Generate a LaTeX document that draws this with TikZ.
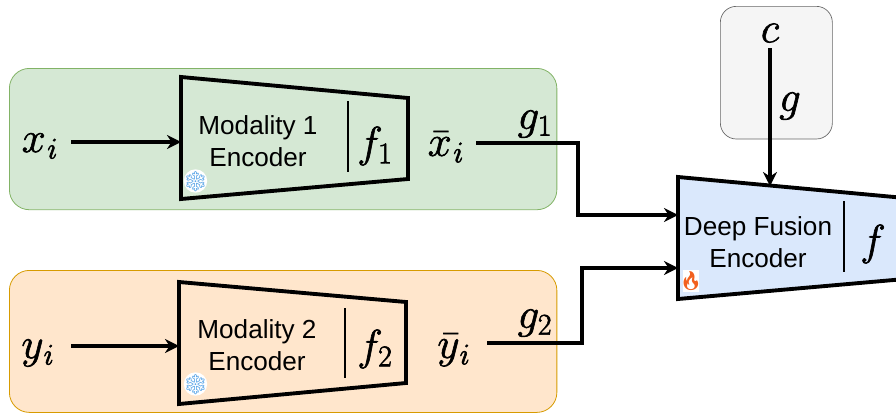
\documentclass[tikz,border=0pt]{standalone}
\usepackage{amsmath}
\usepackage{graphicx}
\usepackage{fontspec}
\setmainfont{Liberation Sans}
\newfontfamily\emojifont{Noto Emoji}
\usetikzlibrary{arrows.meta}
\DeclareMathSizes{24.88}{24.88}{17.28}{12}
\definecolor{grnfill}{HTML}{D5E8D4}
\definecolor{grnline}{HTML}{82B366}
\definecolor{orgfill}{HTML}{FFE6CC}
\definecolor{orgline}{HTML}{D79B00}
\definecolor{bluefill}{HTML}{DAE8FC}
\definecolor{greyfill}{HTML}{F5F5F5}
\definecolor{greyline}{HTML}{666666}
\definecolor{icecol}{HTML}{5AA5E8}
\definecolor{flamecol}{HTML}{F2601E}
\newcommand{\heavy}[1]{\scalebox{1.3}{\special{pdf:code q 2 Tr 0.35 w}#1\special{pdf:code 0 Tr Q}}}
\tikzset{
  x=0.75pt,y=-0.75pt,
  panel/.style={rounded corners=15pt,line width=0.6pt},
  trap/.style={draw=black,line width=2.9pt,line join=miter},
  conn/.style={draw=black,line width=2.3pt,-{Stealth[length=10.5pt,width=10.5pt]}},
  lbl/.style={inner sep=0pt,align=center,font=\fontsize{19.6pt}{24pt}\selectfont},
  mth/.style={inner sep=0pt,font=\fontsize{24.88pt}{30pt}\selectfont},
  ice/.style={inner sep=0pt,circle,minimum size=17.5pt,fill=white,text=icecol,font=\emojifont\fontsize{15pt}{15pt}\selectfont},
  flame/.style={inner sep=0pt,minimum width=12pt,minimum height=16pt,text=flamecol,fill=white,font=\emojifont\fontsize{14pt}{14pt}\selectfont},
  sep/.style={draw=black,line width=2.1pt},
}
\begin{document}
\begin{tikzpicture}
\useasboundingbox (0,0) rectangle (896,414);
% panels
\node[draw=grnline,fill=grnfill,panel,inner sep=0pt,anchor=north west,minimum width=410.6pt,minimum height=106pt] (pa) at (9,68) {};
\node[draw=orgline,fill=orgfill,panel,inner sep=0pt,anchor=north west,minimum width=410.6pt,minimum height=106.5pt] (pb) at (9,270) {};
\node[draw=greyline,fill=greyfill,rounded corners=12pt,line width=0.5pt,inner sep=0pt,anchor=north west,minimum width=84pt,minimum height=99.5pt] (pc) at (720,6) {};
% encoder 1
\coordinate (a1) at (181,77); \coordinate (a2) at (408,98);
\coordinate (a3) at (408,179); \coordinate (a4) at (181,199);
\draw[trap,fill=grnfill] (a1) -- (a2) -- (a3) -- (a4) -- cycle;
\coordinate (a5) at (348,101); \coordinate (a6) at (348,172);
\draw[sep] (a5) -- (a6);
\node[lbl] (t1) at (258,141) {Modality 1\\Encoder};
\node[mth] (f1) at (375,146) {\heavy{$f_1$}};
\node[ice] (s1) at (195.5,181) {\makebox[0pt]{\raisebox{-5.5pt}[0pt][0pt]{❄}}};
% encoder 2
\coordinate (b1) at (179,282); \coordinate (b2) at (406,302);
\coordinate (b3) at (406,383); \coordinate (b4) at (179,404);
\draw[trap,fill=orgfill] (b1) -- (b2) -- (b3) -- (b4) -- cycle;
\coordinate (b5) at (345,308); \coordinate (b6) at (345,378);
\draw[sep] (b5) -- (b6);
\node[lbl] (t2) at (257,345) {Modality 2\\Encoder};
\node[mth] (f2) at (375,349) {\heavy{$f_2$}};
\node[ice] (s2) at (195.5,384) {\makebox[0pt]{\raisebox{-5.5pt}[0pt][0pt]{❄}}};
% fusion
\coordinate (c1) at (678,177); \coordinate (c2) at (905,198);
\coordinate (c3) at (905,279); \coordinate (c4) at (678,299);
\draw[trap,fill=bluefill] (c1) -- (c2) -- (c3) -- (c4) -- cycle;
\coordinate (c5) at (844,201); \coordinate (c6) at (844,272);
\draw[sep] (c5) -- (c6);
\node[lbl] (t3) at (758,242) {Deep Fusion\\Encoder};
\node[mth] (f3) at (873,244) {\heavy{$f$}};
\node[flame] (fl) at (691,281) {\makebox[0pt]{\raisebox{-5pt}[0pt][0pt]{🔥}}};
% labels
\node[mth] (x) at (40,146) {\heavy{$x_{\mkern1mu i}$}};
\node[mth] (y) at (38,353) {\heavy{$y_{\mkern1mu i}$}};
\node[mth] (xb) at (446,147) {\heavy{$\bar{x}_{\mkern1mu i}$}};
\node[mth] (yb) at (454,350) {\heavy{$\bar{y}_{\mkern1mu i}$}};
\node[mth] (g1) at (535,124) {\heavy{$g_1$}};
\node[mth] (g2) at (535,323) {\heavy{$g_2$}};
\node[mth] (c) at (770,33) {\heavy{$c$}};
\node[mth] (g) at (790,106) {\heavy{$g$}};
% connector anchors
\coordinate (xs) at (71,142); \coordinate (ys) at (71,346);
\coordinate (xbs) at (476,143); \coordinate (ybs) at (487,343);
\coordinate (xbm) at (578,143); \coordinate (xbn) at (578,215);
\coordinate (ybm) at (582,343); \coordinate (ybn) at (582,268);
\coordinate (ain) at (181,142); \coordinate (bin) at (179,346);
\coordinate (cin1) at (678,215); \coordinate (cin2) at (678,268);
\coordinate (ctop) at (770,186); \coordinate (cs) at (770,48);
\draw[conn] (xs) -- (ain);
\draw[conn] (ys) -- (bin);
\draw[conn] (xbs) -- (xbm) -- (xbn) -- (cin1);
\draw[conn] (ybs) -- (ybm) -- (ybn) -- (cin2);
\draw[conn] (cs) -- (ctop);
\end{tikzpicture}
\end{document}
